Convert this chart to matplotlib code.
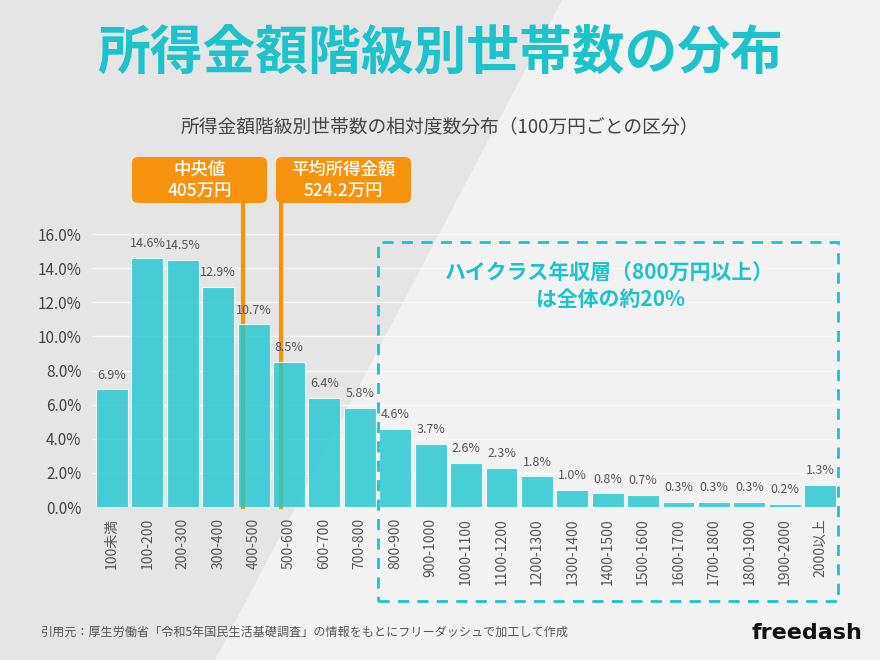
import matplotlib
matplotlib.use('Agg')
import matplotlib.pyplot as plt
from matplotlib.patches import Polygon, Rectangle, FancyBboxPatch

plt.rcParams['font.family'] = ['Noto Sans CJK JP', 'DejaVu Sans']

# Dados
categorias = ['100未満', '100-200', '200-300', '300-400', '400-500', '500-600',
              '600-700', '700-800', '800-900', '900-1000', '1000-1100',
              '1100-1200', '1200-1300', '1300-1400', '1400-1500', '1500-1600',
              '1600-1700', '1700-1800', '1800-1900', '1900-2000', '2000以上']
valores = [6.9, 14.6, 14.5, 12.9, 10.7, 8.5, 6.4, 5.8, 4.6, 3.7, 2.6,
           2.3, 1.8, 1.0, 0.8, 0.7, 0.3, 0.3, 0.3, 0.2, 1.3]
yticks = [0, 2, 4, 6, 8, 10, 12, 14, 16]
# linhas de referência (posição no eixo de categorias)
marcadores = ['中央値\n405万円', '平均所得金額\n524.2万円']
marcadores_pos = [3.7, 4.77]

ciano = '#1cc3ca'
laranja = '#f7920f'

fig = plt.figure(figsize=(8.8, 6.6), dpi=100)
fig.patch.set_facecolor('#f2f2f2')

# fundo diagonal
fig.patches.append(Polygon([(0, 0), (215 / 880, 0), (562 / 880, 1), (0, 1)],
                           closed=True, transform=fig.transFigure,
                           facecolor='#e5e5e5', edgecolor='none', zorder=0))

ax = fig.add_axes([0.1051, 0.2318, 0.849, 0.4136], zorder=1)
ax.set_facecolor('none')
x = list(range(len(categorias)))

for pos in marcadores_pos:
    ax.axvline(pos, ymin=0, ymax=1.17, color=laranja, linewidth=3,
               zorder=1, clip_on=False)

barras = ax.bar(x, valores, width=0.9, color='#1dc7cf', alpha=0.8,
                edgecolor='white', linewidth=0.8, zorder=2)
for xi, v in zip(x, valores):
    ax.text(xi, v + 0.45, f'{v:.1f}%', ha='center', va='bottom',
            fontsize=9, color='#555555', zorder=3)

ax.set_xlim(-0.55, 20.55)
ax.set_ylim(0, 16)
ax.set_yticks(yticks)
ax.set_yticklabels([f'{t:.1f}%' for t in yticks], fontsize=11, color='#444444')
ax.set_xticks(x)
ax.set_xticklabels(categorias, rotation=90, fontsize=10, color='#555555')
ax.tick_params(length=0, pad=8)
ax.yaxis.grid(True, color='white', linewidth=1, alpha=0.7, zorder=0)
ax.set_axisbelow(True)
for s in ax.spines.values():
    s.set_visible(False)

# caixas laranja
caixas_x = [132, 276]
for (cx, texto) in zip(caixas_x, marcadores):
    fig.patches.append(FancyBboxPatch((cx / 880, 1 - 203 / 660), 135 / 880, 46 / 660,
                                      boxstyle='round,pad=0,rounding_size=0.008',
                                      transform=fig.transFigure,
                                      facecolor=laranja, edgecolor='none', zorder=3))
    fig.text((cx + 67.5) / 880, 1 - 180 / 660, texto, ha='center', va='center',
             fontsize=12.5, color='white', fontweight='medium', linespacing=1.25,
             zorder=4)

# caixa tracejada
fig.patches.append(Rectangle((378 / 880, 1 - 601 / 660), 460 / 880, 359 / 660,
                             transform=fig.transFigure, fill=False,
                             edgecolor=ciano, linewidth=2, linestyle=(0, (4, 3)),
                             zorder=3))
fig.text(610 / 880, 1 - 286 / 660, 'ハイクラス年収層（800万円以上）\nは全体の約20%',
         ha='center', va='center', fontsize=15, color=ciano, fontweight='bold',
         linespacing=1.3, zorder=4)

# títulos
fig.text(0.5, 1 - 53 / 660, '所得金額階級別世帯数の分布', ha='center', va='center',
         fontsize=38, color=ciano, fontweight='bold')
fig.text(0.5, 1 - 127 / 660, '所得金額階級別世帯数の相対度数分布（100万円ごとの区分）',
         ha='center', va='center', fontsize=13.5, color='#444444')

# rodapé
fig.text(40 / 880, 1 - 632 / 660,
         '引用元：厚生労働省「令和5年国民生活基礎調査」の情報をもとにフリーダッシュで加工して作成',
         ha='left', va='center', fontsize=8.7, color='#555555')
fig.text(862 / 880, 1 - 633 / 660, 'freedash', ha='right', va='center',
         fontsize=16, color='#111111', fontweight='bold', family='DejaVu Sans')

fig.savefig('out.png', dpi=100, facecolor=fig.get_facecolor())
